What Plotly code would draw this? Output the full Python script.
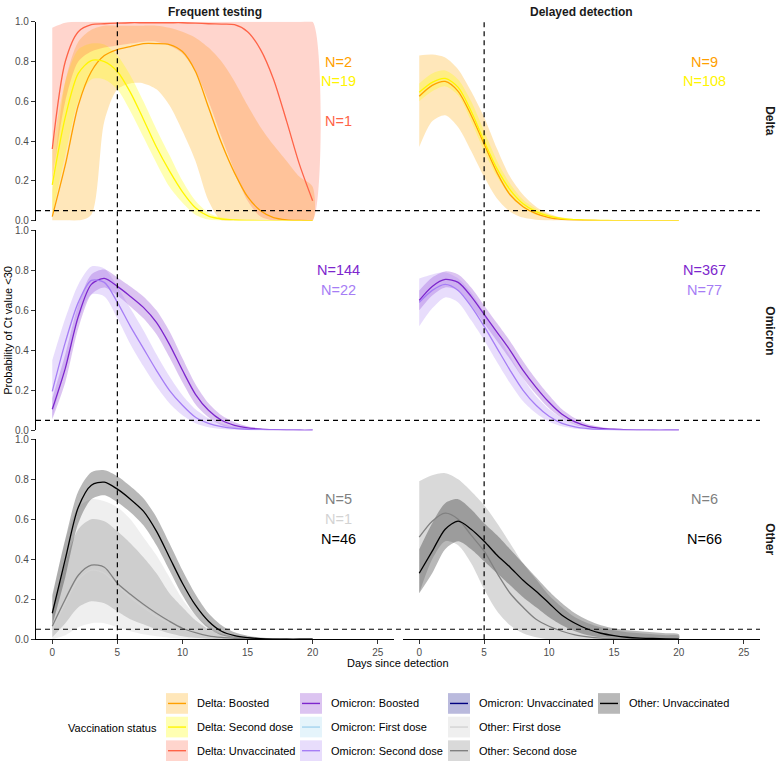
import plotly.graph_objects as go

W, H = 778, 769
DAYS = list(range(21))
X_TICKS = [0, 5, 10, 15, 20, 25]
Y_TICKS = [0.0, 0.2, 0.4, 0.6, 0.8, 1.0]
COL_TITLES = ["Frequent testing", "Delayed detection"]
ROW_TITLES = ["Delta", "Omicron", "Other"]

# ---- Delta, frequent testing ----
delta_ft_boost_mid = [0.02, 0.28, 0.58, 0.75, 0.83, 0.86, 0.875, 0.89, 0.89, 0.885, 0.85, 0.75, 0.57, 0.39, 0.24, 0.12, 0.05, 0.015, 0.004, 0.001, 0.0]
delta_ft_boost_lo = [0.0, 0.0, 0.0, 0.03, 0.5, 0.66, 0.69, 0.69, 0.66, 0.58, 0.45, 0.3, 0.1, 0.0, 0.0, 0.0, 0.0, 0.0, 0.0, 0.0, 0.0]
delta_ft_boost_hi = [0.15, 0.7, 0.9, 0.96, 0.98, 0.98, 0.98, 0.98, 0.98, 0.97, 0.95, 0.92, 0.87, 0.8, 0.7, 0.58, 0.47, 0.38, 0.3, 0.22, 0.17]
delta_ft_second_mid = [0.18, 0.52, 0.74, 0.805, 0.8, 0.75, 0.645, 0.51, 0.37, 0.25, 0.145, 0.065, 0.022, 0.008, 0.003, 0.001, 0.0, 0.0, 0.0, 0.0, 0.0]
delta_ft_second_lo = [0.03, 0.33, 0.6, 0.71, 0.71, 0.66, 0.55, 0.42, 0.29, 0.17, 0.09, 0.03, 0.005, 0.0, 0.0, 0.0, 0.0, 0.0, 0.0, 0.0, 0.0]
delta_ft_second_hi = [0.35, 0.7, 0.86, 0.89, 0.885, 0.83, 0.73, 0.6, 0.46, 0.33, 0.2, 0.1, 0.04, 0.015, 0.006, 0.003, 0.002, 0.001, 0.001, 0.001, 0.001]
delta_ft_unvax_mid = [0.36, 0.8, 0.95, 0.985, 0.99, 0.993, 0.995, 0.995, 0.995, 0.995, 0.995, 0.993, 0.99, 0.988, 0.985, 0.95, 0.86, 0.71, 0.5, 0.28, 0.1]
delta_ft_unvax_lo = [0.2, 0.6, 0.8, 0.85, 0.87, 0.88, 0.89, 0.9, 0.9, 0.88, 0.84, 0.75, 0.6, 0.42, 0.25, 0.1, 0.02, 0.0, 0.0, 0.0, 0.0]
delta_ft_unvax_hi = [0.97, 0.995, 1.0, 1.0, 1.0, 1.0, 1.0, 1.0, 1.0, 1.0, 1.0, 1.0, 1.0, 1.0, 1.0, 1.0, 1.0, 1.0, 1.0, 1.0, 1.0]

# ---- Delta, delayed detection ----
delta_dd_boost_mid = [0.625, 0.68, 0.7, 0.65, 0.53, 0.385, 0.24, 0.13, 0.07, 0.035, 0.015, 0.006, 0.002, 0.001, 0.0, 0.0, 0.0, 0.0, 0.0, 0.0, 0.0]
delta_dd_boost_lo = [0.37, 0.5, 0.53, 0.47, 0.35, 0.22, 0.11, 0.045, 0.015, 0.004, 0.0, 0.0, 0.0, 0.0, 0.0, 0.0, 0.0, 0.0, 0.0, 0.0, 0.0]
delta_dd_boost_hi = [0.83, 0.835, 0.82, 0.76, 0.65, 0.52, 0.36, 0.22, 0.13, 0.07, 0.035, 0.015, 0.007, 0.003, 0.001, 0.0, 0.0, 0.0, 0.0, 0.0, 0.0]
delta_dd_second_mid = [0.645, 0.695, 0.715, 0.67, 0.55, 0.4, 0.26, 0.155, 0.085, 0.045, 0.022, 0.01, 0.005, 0.002, 0.001, 0.0, 0.0, 0.0, 0.0, 0.0, 0.0]
delta_dd_second_lo = [0.6, 0.65, 0.675, 0.63, 0.5, 0.35, 0.22, 0.125, 0.065, 0.03, 0.015, 0.006, 0.002, 0.0, 0.0, 0.0, 0.0, 0.0, 0.0, 0.0, 0.0]
delta_dd_second_hi = [0.69, 0.74, 0.755, 0.71, 0.6, 0.45, 0.3, 0.185, 0.105, 0.06, 0.03, 0.015, 0.007, 0.003, 0.002, 0.001, 0.001, 0.001, 0.001, 0.001, 0.001]

# ---- Omicron, frequent testing ----
omi_ft_boost_mid = [0.105, 0.31, 0.57, 0.73, 0.76, 0.72, 0.67, 0.615, 0.54, 0.43, 0.3, 0.18, 0.1, 0.05, 0.025, 0.012, 0.006, 0.003, 0.001, 0.0, 0.0]
omi_ft_boost_lo = [0.055, 0.24, 0.51, 0.68, 0.715, 0.675, 0.62, 0.56, 0.48, 0.365, 0.24, 0.13, 0.065, 0.025, 0.01, 0.004, 0.002, 0.001, 0.0, 0.0, 0.0]
omi_ft_boost_hi = [0.16, 0.38, 0.63, 0.78, 0.805, 0.765, 0.72, 0.67, 0.6, 0.495, 0.36, 0.23, 0.135, 0.075, 0.04, 0.02, 0.01, 0.005, 0.002, 0.001, 0.001]
omi_ft_second_mid = [0.195, 0.44, 0.64, 0.75, 0.74, 0.64, 0.52, 0.41, 0.3, 0.2, 0.125, 0.065, 0.035, 0.018, 0.009, 0.005, 0.003, 0.002, 0.001, 0.0, 0.0]
omi_ft_second_lo = [0.06, 0.32, 0.55, 0.68, 0.67, 0.56, 0.43, 0.32, 0.22, 0.135, 0.075, 0.035, 0.015, 0.006, 0.002, 0.001, 0.0, 0.0, 0.0, 0.0, 0.0]
omi_ft_second_hi = [0.35, 0.56, 0.73, 0.82, 0.81, 0.72, 0.61, 0.5, 0.38, 0.27, 0.175, 0.105, 0.06, 0.033, 0.018, 0.01, 0.006, 0.004, 0.002, 0.001, 0.001]

# ---- Omicron, delayed detection ----
omi_dd_boost_mid = [0.65, 0.72, 0.755, 0.74, 0.67, 0.58, 0.49, 0.4, 0.3, 0.215, 0.14, 0.08, 0.042, 0.02, 0.01, 0.005, 0.002, 0.001, 0.0, 0.0, 0.0]
omi_dd_boost_lo = [0.6, 0.675, 0.715, 0.7, 0.625, 0.535, 0.445, 0.355, 0.26, 0.18, 0.11, 0.06, 0.028, 0.012, 0.005, 0.002, 0.001, 0.0, 0.0, 0.0, 0.0]
omi_dd_boost_hi = [0.7, 0.765, 0.795, 0.78, 0.715, 0.625, 0.535, 0.445, 0.345, 0.255, 0.175, 0.105, 0.06, 0.03, 0.016, 0.008, 0.004, 0.002, 0.001, 0.001, 0.001]
omi_dd_second_mid = [0.64, 0.7, 0.73, 0.7, 0.62, 0.52, 0.41, 0.3, 0.2, 0.125, 0.07, 0.035, 0.017, 0.008, 0.004, 0.002, 0.001, 0.0, 0.0, 0.0, 0.0]
omi_dd_second_lo = [0.52, 0.61, 0.665, 0.64, 0.55, 0.45, 0.34, 0.235, 0.145, 0.085, 0.043, 0.02, 0.008, 0.003, 0.001, 0.0, 0.0, 0.0, 0.0, 0.0, 0.0]
omi_dd_second_hi = [0.76, 0.78, 0.79, 0.76, 0.69, 0.59, 0.48, 0.37, 0.26, 0.17, 0.105, 0.06, 0.032, 0.016, 0.008, 0.004, 0.002, 0.001, 0.001, 0.001, 0.001]

# ---- Other, frequent testing ----
oth_ft_unvax_mid = [0.13, 0.4, 0.66, 0.77, 0.785, 0.75, 0.7, 0.64, 0.54, 0.41, 0.28, 0.17, 0.09, 0.04, 0.018, 0.008, 0.003, 0.001, 0.0, 0.0, 0.0]
oth_ft_unvax_lo = [0.07, 0.31, 0.58, 0.7, 0.72, 0.685, 0.635, 0.57, 0.47, 0.345, 0.22, 0.12, 0.055, 0.02, 0.007, 0.002, 0.001, 0.0, 0.0, 0.0, 0.0]
oth_ft_unvax_hi = [0.22, 0.5, 0.74, 0.835, 0.845, 0.815, 0.765, 0.705, 0.61, 0.48, 0.345, 0.225, 0.13, 0.07, 0.035, 0.018, 0.009, 0.005, 0.003, 0.002, 0.001]
oth_ft_second_mid = [0.065, 0.2, 0.32, 0.37, 0.36, 0.28, 0.225, 0.175, 0.13, 0.09, 0.055, 0.033, 0.017, 0.009, 0.005, 0.002, 0.001, 0.0, 0.0, 0.0, 0.0]
oth_ft_second_lo = [0.01, 0.08, 0.16, 0.19, 0.18, 0.14, 0.1, 0.075, 0.05, 0.03, 0.015, 0.007, 0.003, 0.001, 0.0, 0.0, 0.0, 0.0, 0.0, 0.0, 0.0]
oth_ft_second_hi = [0.14, 0.38, 0.55, 0.6, 0.59, 0.54, 0.48, 0.41, 0.33, 0.23, 0.16, 0.095, 0.05, 0.025, 0.012, 0.006, 0.003, 0.002, 0.001, 0.001, 0.001]
oth_ft_first_mid = [0.05, 0.18, 0.3, 0.345, 0.33, 0.27, 0.21, 0.16, 0.115, 0.08, 0.05, 0.03, 0.015, 0.008, 0.004, 0.002, 0.001, 0.0, 0.0, 0.0, 0.0]
oth_ft_first_lo = [0.0, 0.02, 0.06, 0.08, 0.08, 0.06, 0.04, 0.025, 0.015, 0.008, 0.004, 0.002, 0.001, 0.0, 0.0, 0.0, 0.0, 0.0, 0.0, 0.0, 0.0]
oth_ft_first_hi = [0.2, 0.5, 0.66, 0.7, 0.69, 0.66, 0.6, 0.51, 0.42, 0.31, 0.2, 0.12, 0.065, 0.03, 0.015, 0.007, 0.004, 0.002, 0.001, 0.001, 0.001]

# ---- Other, delayed detection ----
oth_dd_unvax_mid = [0.33, 0.44, 0.55, 0.59, 0.55, 0.49, 0.42, 0.36, 0.295, 0.24, 0.18, 0.12, 0.08, 0.05, 0.03, 0.018, 0.01, 0.006, 0.004, 0.002, 0.001]
oth_dd_unvax_lo = [0.23, 0.33, 0.45, 0.49, 0.45, 0.39, 0.33, 0.27, 0.21, 0.16, 0.11, 0.07, 0.04, 0.02, 0.01, 0.005, 0.0, 0.0, 0.0, 0.0, 0.0]
oth_dd_unvax_hi = [0.45, 0.58, 0.68, 0.7, 0.65, 0.58, 0.52, 0.45, 0.38, 0.31, 0.24, 0.18, 0.13, 0.095, 0.07, 0.055, 0.045, 0.04, 0.035, 0.03, 0.025]
oth_dd_second_mid = [0.51, 0.59, 0.63, 0.6, 0.52, 0.44, 0.33, 0.23, 0.16, 0.1, 0.065, 0.04, 0.022, 0.012, 0.006, 0.003, 0.001, 0.0, 0.0, 0.0, 0.0]
oth_dd_second_lo = [0.23, 0.4, 0.49, 0.47, 0.38, 0.25, 0.14, 0.07, 0.03, 0.01, 0.0, 0.0, 0.0, 0.0, 0.0, 0.0, 0.0, 0.0, 0.0, 0.0, 0.0]
oth_dd_second_hi = [0.79, 0.82, 0.83, 0.8, 0.74, 0.67, 0.58, 0.48, 0.38, 0.3, 0.22, 0.16, 0.11, 0.08, 0.06, 0.045, 0.035, 0.03, 0.025, 0.02, 0.018]

# ---- groups: name -> (line colour, ribbon colour) ----
GROUPS = {
    "Delta: Boosted": ("#FFA000", "rgba(255,165,0,0.27)"),
    "Delta: Second dose": ("#FFF500", "rgba(255,255,0,0.3)"),
    "Delta: Unvaccinated": ("#FF6347", "rgba(255,99,71,0.27)"),
    "Omicron: Boosted": ("#7D26CD", "rgba(125,38,205,0.27)"),
    "Omicron: First dose": ("#A4D3EE", "rgba(135,206,235,0.22)"),
    "Omicron: Second dose": ("#A67DF5", "rgba(167,125,245,0.26)"),
    "Omicron: Unvaccinated": ("#000080", "rgba(0,0,128,0.27)"),
    "Other: First dose": ("#D3D3D3", "rgba(190,190,190,0.25)"),
    "Other: Second dose": ("#808080", "rgba(128,128,128,0.3)"),
    "Other: Unvaccinated": ("#000000", "rgba(0,0,0,0.28)"),
}
N_Y = {"Boosted": 0.8, "Second dose": 0.7, "First dose": 0.6, "Unvaccinated": 0.5}

# (row, col, group, N, mid, lo, hi)
SERIES = [
    (0, 0, "Delta: Boosted", 2, delta_ft_boost_mid, delta_ft_boost_lo, delta_ft_boost_hi),
    (0, 0, "Delta: Second dose", 19, delta_ft_second_mid, delta_ft_second_lo, delta_ft_second_hi),
    (0, 0, "Delta: Unvaccinated", 1, delta_ft_unvax_mid, delta_ft_unvax_lo, delta_ft_unvax_hi),
    (0, 1, "Delta: Boosted", 9, delta_dd_boost_mid, delta_dd_boost_lo, delta_dd_boost_hi),
    (0, 1, "Delta: Second dose", 108, delta_dd_second_mid, delta_dd_second_lo, delta_dd_second_hi),
    (1, 0, "Omicron: Boosted", 144, omi_ft_boost_mid, omi_ft_boost_lo, omi_ft_boost_hi),
    (1, 0, "Omicron: Second dose", 22, omi_ft_second_mid, omi_ft_second_lo, omi_ft_second_hi),
    (1, 1, "Omicron: Boosted", 367, omi_dd_boost_mid, omi_dd_boost_lo, omi_dd_boost_hi),
    (1, 1, "Omicron: Second dose", 77, omi_dd_second_mid, omi_dd_second_lo, omi_dd_second_hi),
    (2, 0, "Other: First dose", 1, oth_ft_first_mid, oth_ft_first_lo, oth_ft_first_hi),
    (2, 0, "Other: Second dose", 5, oth_ft_second_mid, oth_ft_second_lo, oth_ft_second_hi),
    (2, 0, "Other: Unvaccinated", 46, oth_ft_unvax_mid, oth_ft_unvax_lo, oth_ft_unvax_hi),
    (2, 1, "Other: Second dose", 6, oth_dd_second_mid, oth_dd_second_lo, oth_dd_second_hi),
    (2, 1, "Other: Unvaccinated", 66, oth_dd_unvax_mid, oth_dd_unvax_lo, oth_dd_unvax_hi),
]

FONT = "Liberation Sans, Arial, Helvetica, sans-serif"
XDOM = {0: [36 / W, 394 / W], 1: [403 / W, 760 / W]}
YPIX = {0: (16, 218), 1: (228, 431), 2: (440, 643.3)}
YDOM = {r: [1 - b / H, 1 - t / H] for r, (t, b) in YPIX.items()}


def ax(r, c):
    return r * 2 + c + 1


fig = go.Figure()

# ribbons first
for r, c, g, n, mid, lo, hi in SERIES:
    k = ax(r, c)
    fig.add_trace(go.Scatter(
        x=DAYS + DAYS[::-1], y=hi + lo[::-1], fill="toself",
        fillcolor=GROUPS[g][1], mode="lines",
        line=dict(width=0, shape="spline", smoothing=0.8),
        hoverinfo="skip", showlegend=False,
        xaxis=f"x{k}", yaxis=f"y{k}"))
# then lines
for r, c, g, n, mid, lo, hi in SERIES:
    k = ax(r, c)
    fig.add_trace(go.Scatter(
        x=DAYS, y=mid, mode="lines",
        line=dict(color=GROUPS[g][0], width=1.3, shape="spline", smoothing=0.8),
        name=g, showlegend=False, xaxis=f"x{k}", yaxis=f"y{k}"))

layout = dict(width=W, height=H, autosize=False,
              margin=dict(l=0, r=0, t=0, b=0),
              paper_bgcolor="white", plot_bgcolor="white",
              font=dict(family=FONT, color="black"),
              showlegend=False)

for r in range(3):
    for c in range(2):
        k = ax(r, c)
        xs = "xaxis" if k == 1 else f"xaxis{k}"
        ys = "yaxis" if k == 1 else f"yaxis{k}"
        bottom = r == 2
        left = c == 0
        layout[xs] = dict(domain=XDOM[c], range=[-1.25, 26.25], anchor=f"y{k}",
                          showgrid=False, zeroline=False,
                          showline=bottom, linecolor="black", linewidth=1.1,
                          ticks="outside" if bottom else "", ticklen=4,
                          tickcolor="#333333", tickwidth=1,
                          tickvals=X_TICKS, showticklabels=bottom,
                          tickfont=dict(size=10, color="#4D4D4D", family=FONT))
        layout[ys] = dict(domain=YDOM[r], range=[0, 1], anchor=f"x{k}",
                          showgrid=False, zeroline=False,
                          showline=left, linecolor="black", linewidth=1.1,
                          ticks="outside" if left else "", ticklen=4,
                          tickcolor="#333333", tickwidth=1,
                          tickvals=Y_TICKS, tickformat=".1f",
                          showticklabels=left,
                          tickfont=dict(size=10, color="#4D4D4D", family=FONT))

shapes = []
dash = "5px,4px"
# vertical dashed lines at day 5 spanning all rows
for c in range(2):
    shapes.append(dict(type="line", xref=f"x{ax(0, c)}", yref="paper",
                       x0=5, x1=5, y0=YDOM[2][0], y1=YDOM[0][1],
                       line=dict(color="black", width=1.2, dash=dash)))
# horizontal dashed lines at 0.05
for r in range(3):
    shapes.append(dict(type="line", xref="paper", yref=f"y{ax(r, 0)}",
                       x0=36 / W, x1=760 / W, y0=0.05, y1=0.05,
                       line=dict(color="black", width=1.2, dash=dash)))

annotations = []
# N labels
for r, c, g, n, mid, lo, hi in SERIES:
    k = ax(r, c)
    status = g.split(": ")[1]
    annotations.append(dict(xref=f"x{k}", yref=f"y{k}", x=22, y=N_Y[status],
                            xanchor="center", yanchor="middle",
                            text=f"N={n}", showarrow=False,
                            font=dict(size=14.5, color=GROUPS[g][0], family=FONT)))
# column strips
for c, t in enumerate(COL_TITLES):
    annotations.append(dict(xref="paper", yref="paper",
                            x=(XDOM[c][0] + XDOM[c][1]) / 2, y=1 - 6 / H,
                            xanchor="center", yanchor="middle",
                            text=f"<b>{t}</b>", showarrow=False,
                            font=dict(size=12, color="#1A1A1A", family=FONT)))
# row strips
for r, t in enumerate(ROW_TITLES):
    annotations.append(dict(xref="paper", yref="paper",
                            x=770 / W, y=(YDOM[r][0] + YDOM[r][1]) / 2,
                            xanchor="center", yanchor="middle",
                            text=f"<b>{t}</b>", showarrow=False, textangle=90,
                            font=dict(size=12, color="#1A1A1A", family=FONT)))
# axis titles
annotations.append(dict(xref="paper", yref="paper", x=398 / W, y=1 - 667 / H,
                        xanchor="center", yanchor="middle",
                        text="Days since detection", showarrow=False,
                        font=dict(size=11, family=FONT)))
annotations.append(dict(xref="paper", yref="paper", x=8 / W, y=1 - 330 / H,
                        xanchor="center", yanchor="middle",
                        text="Probability of Ct value &lt;30", showarrow=False,
                        textangle=-90, font=dict(size=11, family=FONT)))

# legend (column-major, 3 rows)
LEG_COL_X = [166, 300, 448, 598]
LEG_ROW_Y = [698, 722, 746]
KEY_W, KEY_H = 22, 21
names = list(GROUPS.keys())
for i, g in enumerate(names):
    col, row = divmod(i, 3)
    x0, y0 = LEG_COL_X[col], LEG_ROW_Y[row]
    shapes.append(dict(type="rect", xref="paper", yref="paper",
                       x0=x0 / W, x1=(x0 + KEY_W) / W,
                       y0=1 - (y0 + KEY_H) / H, y1=1 - y0 / H,
                       fillcolor=GROUPS[g][1], line=dict(width=0)))
    shapes.append(dict(type="line", xref="paper", yref="paper",
                       x0=(x0 + 2) / W, x1=(x0 + KEY_W - 2) / W,
                       y0=1 - (y0 + KEY_H / 2) / H, y1=1 - (y0 + KEY_H / 2) / H,
                       line=dict(color=GROUPS[g][0], width=1.4)))
    annotations.append(dict(xref="paper", yref="paper",
                            x=(x0 + KEY_W + 7) / W, y=1 - (y0 + KEY_H / 2) / H,
                            xanchor="left", yanchor="middle", text=g,
                            showarrow=False, font=dict(size=11, family=FONT)))
annotations.append(dict(xref="paper", yref="paper", x=159 / W, y=1 - 733 / H,
                        xanchor="right", yanchor="middle",
                        text="Vaccination status", showarrow=False,
                        font=dict(size=11, family=FONT)))

layout["shapes"] = shapes
layout["annotations"] = annotations
fig.update_layout(**layout)
post = ("var s=document.documentElement.style;s.margin='0px';s.padding='0px';"
        "s.overflow='hidden';s.height='769px';"
        "var b=document.body.style;b.margin='0px';b.padding='0px';"
        "b.overflow='hidden';b.height='769px';")
fig.write_html("out.html", config={"displayModeBar": False}, post_script=post)
